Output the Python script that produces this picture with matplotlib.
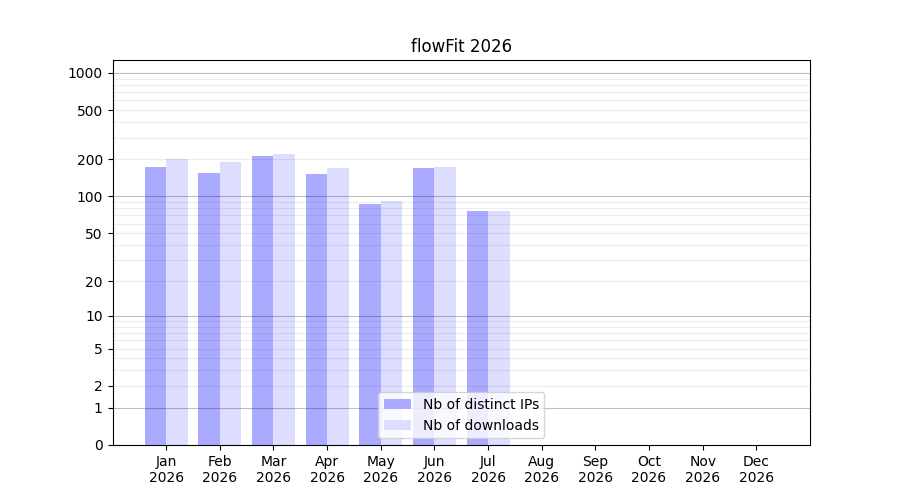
import numpy as np
import matplotlib
matplotlib.use('Agg')
import matplotlib.pyplot as plt

months = ['Jan', 'Feb', 'Mar', 'Apr', 'May', 'Jun', 'Jul', 'Aug', 'Sep', 'Oct', 'Nov', 'Dec']
year = '2026'
ips = [174, 155, 213, 152, 87, 170, 76]
downloads = [202, 190, 221, 170, 92, 174, 76]

yticks = [0, 1, 2, 5, 10, 20, 50, 100, 200, 500, 1000]
major_grid = [1, 10, 100, 1000]
minor_grid = [m * 10**k for k in range(3) for m in range(2, 10)]

fwd = lambda v: np.log10(1 + np.clip(v, 0, None))
inv = lambda y: 10**y - 1

fig, ax = plt.subplots(figsize=(9, 5), dpi=100)
ax.set_yscale('function', functions=(fwd, inv))

w = 0.4
x = np.arange(len(months))
ax.bar(x[:len(ips)] - w, ips, width=w, align='edge', color='#aaaaff', label='Nb of distinct IPs')
ax.bar(x[:len(downloads)], downloads, width=w, align='edge', color='#ddddff', label='Nb of downloads')

# grid drawn over the bars, semi transparent
for v in minor_grid:
    ax.axhline(v, color='black', alpha=0.07, lw=0.8, zorder=1.5)
for v in major_grid:
    ax.axhline(v, color='black', alpha=0.25, lw=0.8, zorder=1.6)

ax.set_ylim(0, 1273)
ax.set_xlim(-1, 12)
ax.set_yticks(yticks)
ax.set_yticklabels([str(t) for t in yticks])
ax.minorticks_off()
ax.set_xticks(x)
ax.set_xticklabels([m + '\n' + year for m in months])
ax.set_title('flowFit 2026')
ax.legend(loc='lower center')

plt.savefig('out.png')
